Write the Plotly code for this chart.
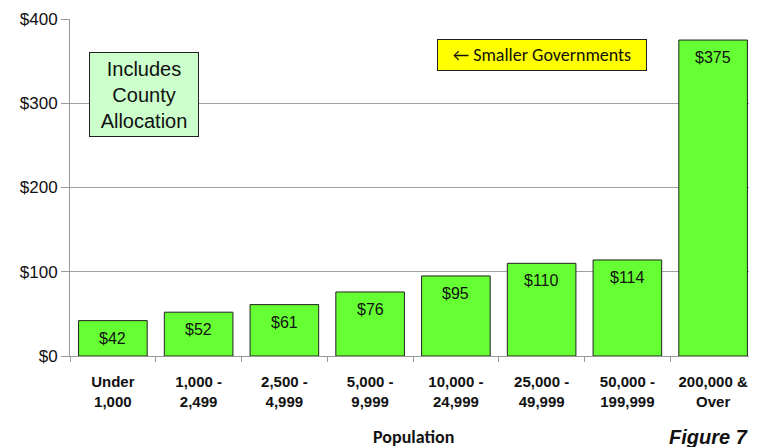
import plotly.graph_objects as go

categories = ["Under<br>1,000", "1,000 -<br>2,499", "2,500 -<br>4,999", "5,000 -<br>9,999",
              "10,000 -<br>24,999", "25,000 -<br>49,999", "50,000 -<br>199,999", "200,000 &<br>Over"]
values = [42, 52, 61, 76, 95, 110, 114, 375]
labels = ["$42", "$52", "$61", "$76", "$95", "$110", "$114", "$375"]

sans = "Liberation Sans, Arial, sans-serif"
calibri = "Carlito, Calibri, Lato, sans-serif"

# page has an 8px body margin: figure coords = page coords - 8
X0, W, YB, H = 62, 686, 348, 337
def px(x):
    return (x - 8 - X0) / W
def py(y):
    return (YB - (y - 8)) / H

fig = go.Figure()
fig.add_trace(go.Bar(
    x=categories, y=values,
    marker=dict(color="#66ff33", line=dict(color="#222222", width=1)),
    hoverinfo="skip",
))

for c, v, t in zip(categories, values, labels):
    fig.add_annotation(x=c, y=v, text=t, showarrow=False, yanchor="top", yshift=-7,
                       font=dict(family=sans, size=16, color="#111111"))

fig.add_annotation(xref="paper", yref="paper", x=px(144), y=py(94.5),
                   xanchor="center", yanchor="middle",
                   text="Includes<br>County<br>Allocation", showarrow=False,
                   font=dict(family=sans, size=20, color="#111111"),
                   bgcolor="#ccffcc", bordercolor="#222222", borderwidth=1,
                   width=106, height=81, align="center")

fig.add_annotation(xref="paper", yref="paper", x=px(542), y=py(55),
                   xanchor="center", yanchor="middle",
                   text="\u2190 Smaller Governments", showarrow=False,
                   font=dict(family=calibri, size=18, color="#111111"),
                   bgcolor="#ffff00", bordercolor="#222222", borderwidth=1,
                   width=206, height=28, align="center")

fig.add_annotation(xref="paper", yref="paper", x=px(413), y=py(437),
                   xanchor="center", yanchor="middle",
                   text="<b>Population</b>", showarrow=False,
                   font=dict(family=calibri, size=18, color="#111111"))

fig.add_annotation(xref="paper", yref="paper", x=px(667), y=py(450),
                   xanchor="left", yanchor="bottom",
                   text="<b><i>Figure 7</i></b>", showarrow=False,
                   font=dict(family=sans, size=20, color="#111111"))

fig.update_layout(
    width=749, height=439,
    margin=dict(l=X0, r=1, t=11, b=91, autoexpand=False),
    paper_bgcolor="white", plot_bgcolor="white",
    bargap=0.2, showlegend=False,
    xaxis=dict(type="category", showline=True, linecolor="#999999", linewidth=1,
               ticks="outside", tickson="boundaries", ticklen=5, tickcolor="#999999",
               tickfont=dict(family=sans, size=15, color="#111111"), tickangle=0,
               showgrid=False, automargin=False, ticklabelstandoff=12),
    yaxis=dict(range=[0, 400], dtick=100, tickprefix="$", showline=True, linecolor="#999999",
               linewidth=1, ticks="outside", ticklen=8, tickcolor="#999999",
               gridcolor="#a0a0a0", gridwidth=1, zeroline=False, automargin=False,
               tickfont=dict(family=sans, size=17, color="#111111")),
)
fig.update_xaxes(tickprefix="<b>", ticksuffix="</b>")

fig.write_html("out.html")
